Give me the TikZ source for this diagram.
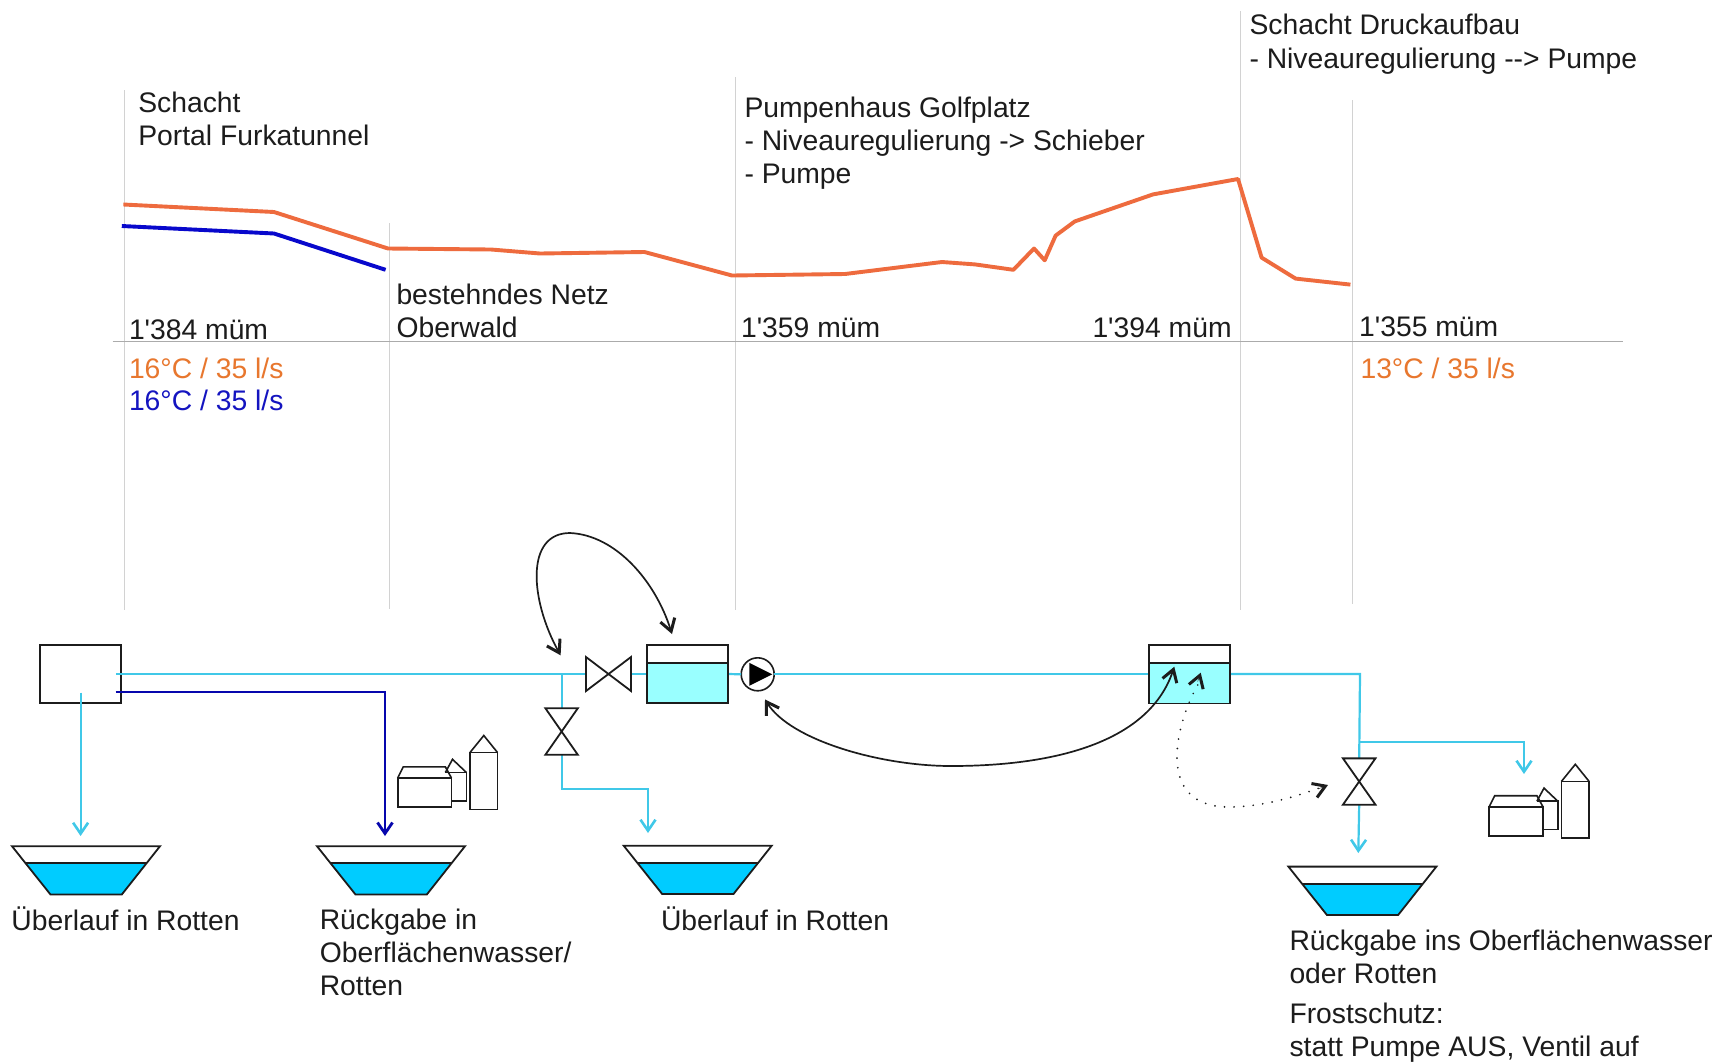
\documentclass[tikz,border=0pt]{standalone}
\usepackage{fontspec}
\newfontfamily\labfont{Liberation Sans}
\usetikzlibrary{arrows.meta,calc}
\definecolor{orangeline}{HTML}{EE6B3E}
\definecolor{orangetext}{HTML}{E8772E}
\definecolor{blueline}{HTML}{0808CC}
\definecolor{bluetext}{HTML}{1414C0}
\definecolor{pipe}{HTML}{40C8E8}
\definecolor{tankwater}{HTML}{99FFFF}
\definecolor{riverwater}{HTML}{00CCFF}
\definecolor{gridgrey}{HTML}{D2D2D2}
\definecolor{axisgrey}{HTML}{ABABAB}
\definecolor{ink}{HTML}{1C1C1C}
\newcommand{\firstline}{\rule{0pt}{27pt}}
\tikzset{
  lab/.style={font=\labfont\fontsize{28.3}{33.3}\selectfont,align=left,anchor=north west,inner sep=0pt,outer sep=0pt,xshift=-0.5pt,yshift=26pt,text=ink},
  guide/.style={draw=gridgrey,line width=1pt},
  profile/.style={line width=3.9pt,line join=round},
  outline/.style={draw=ink,line width=1.8pt,line join=miter},
  vessel/.style={outline,rectangle,inner sep=0pt,outer sep=0pt,minimum width=81pt,minimum height=58.5pt},
  valvebox/.style={rectangle,inner sep=0pt,outer sep=0pt},
  pipeline/.style={draw=pipe,line width=2.2pt},
  pipearrow/.style={pipeline,-{Straight Barb[length=11pt,width=15pt,line width=2.6pt]}},
  signal/.style={draw=ink,line width=1.7pt,{Straight Barb[length=12pt,width=15pt,line width=3pt]}-{Straight Barb[length=12pt,width=15pt,line width=3pt]}},
  barbonly/.style={draw=ink,line width=0.4pt,-{Straight Barb[length=12pt,width=15pt,line width=3pt]}},
}
\newcommand{\basinshape}[2]{%
  \fill[riverwater] (#1+13.8,#2+17) -- (#1+134.5,#2+17) -- (#1+109.8,#2+48.3) -- (#1+38.5,#2+48.3) -- cycle;
  \draw[outline] (#1,#2) -- (#1+148,#2) -- (#1+109.8,#2+48.3) -- (#1+38.5,#2+48.3) -- cycle;
  \draw[outline] (#1+13.8,#2+17) -- (#1+134.5,#2+17);
}
\newcommand{\village}[2]{%
  \begin{scope}[shift={(#1,#2)}]
    \draw[outline,line width=1.6pt] (445,771.9) -- (466.3,771.9) -- (466.3,800.2) -- (451,800.2);
    \draw[outline,line width=1.6pt] (445.4,771.9) -- (452.5,758.8) -- (466.3,771.9);
    \draw[outline,line width=1.6pt,fill=white] (397.7,777.4) rectangle (451.4,806.4);
    \draw[outline,line width=1.6pt] (397.7,777.4) -- (403.2,766.4) -- (445.4,766.4) -- (451.4,777.4);
    \draw[outline,line width=1.6pt] (470,752) rectangle (497.5,808.8);
    \draw[outline,line width=1.6pt] (470,752) -- (483.8,735) -- (497.5,752);
  \end{scope}
}
\begin{document}
\begin{tikzpicture}[x=1pt,y=-1pt]
\useasboundingbox (0,0) rectangle (1719,1061);
\fill[white] (0,0) rectangle (1719,1061);

% guide lines
\draw[guide] (124,90) -- (124,610);
\draw[guide] (389.5,223) -- (389.5,609);
\draw[guide] (735,77) -- (735,610);
\draw[guide] (1240,11) -- (1240,610);
\draw[guide] (1352.6,100) -- (1352.6,604);
\draw[draw=axisgrey,line width=1.8pt] (112.5,341.5) -- (1623,341.5);

% profiles
\draw[profile,orangeline] (123.4,204.5) -- (274,212) -- (388,248.5) -- (491,249.5) -- (540,253.5) -- (644.5,252) -- (732,275.5) -- (845,274) -- (942,262) -- (975,264.4) -- (1013.4,269.8) -- (1034,248.5) -- (1044.7,260.3) -- (1055.6,235.6) -- (1074.8,221.4) -- (1153,194.4) -- (1238,179) -- (1261.6,257.6) -- (1295.6,278.6) -- (1350.4,284.6);
\draw[profile,blueline] (121.8,226) -- (274,233.5) -- (385.6,269.8);

% upper texts
\node[lab] (tSchacht) at (138.8,111.6) {\firstline Schacht\\Portal Furkatunnel};
\node[lab] (tPump) at (745,116) {\firstline Pumpenhaus Golfplatz\\- Niveauregulierung -> Schieber\\- Pumpe};
\node[lab] (tDruck) at (1250,33.8) {\firstline Schacht Druckaufbau\\- Niveauregulierung --> Pumpe};
\node[lab] (tNetz) at (397,303.6) {\firstline bestehndes Netz\\Oberwald};
\node[lab] (tA) at (129.5,338) {\firstline 1'384 müm};
\node[lab] (tB) at (741.6,336.4) {\firstline 1'359 müm};
\node[lab] (tC) at (1093,336.4) {\firstline 1'394 müm};
\node[lab] (tD) at (1359.7,335.4) {\firstline 1'355 müm};
\node[lab,text=orangetext] (tE) at (129.5,377.6) {\firstline 16°C / 35 l/s};
\node[lab,text=bluetext] (tF) at (129.5,409.7) {\firstline 16°C / 35 l/s};
\node[lab,text=orangetext] (tG) at (1361,377) {\firstline 13°C / 35 l/s};

% equipment nodes
\node[vessel,minimum height=58.7pt] (shaft) at (80.5,674) {};
\node[vessel,fill=tankwater] (tankA) at (687.8,674) {};
\node[vessel,fill=tankwater] (tankB) at (1189.5,674.3) {};
\node[valvebox,minimum width=45pt,minimum height=34pt] (valveH) at (608.5,674) {};
\node[valvebox,minimum width=32.5pt,minimum height=46.6pt] (valveV) at (561.6,731.5) {};
\node[valvebox,minimum width=32.5pt,minimum height=46.3pt] (valveW) at (1359.2,781.5) {};
\node[circle,draw=ink,fill=white,line width=1.6pt,inner sep=0pt,outer sep=0pt,minimum size=33pt] (pump) at (757.7,674.3) {};

% named pipe points
\coordinate (shaftOut) at (116,674);
\coordinate (shaftBlue) at (115.7,692.3);
\coordinate (shaftDrop) at (80.6,692.5);
\coordinate (teeA) at (561.6,674);
\coordinate (teeB) at (1360,742.2);
\coordinate (bendTankB) at (1360,674);
\coordinate (cBlue) at (385,692.3);
\coordinate (cOut) at (561.6,788.8);
\coordinate (cOut2) at (648,788.8);
\coordinate (cVill) at (1524,742.2);
\coordinate (tipLeft) at (80.6,836);
\coordinate (tipBlue) at (385,836);
\coordinate (tipMid) at (648,833);
\coordinate (tipVill) at (1524,774);
\coordinate (tipLow) at (1358.3,853);

% pipes
\draw[pipeline] (shaftOut) -- (valveH.west);
\draw[pipeline] (valveH.east) -- (tankA.west);
\draw[pipeline] (tankA.east) -- (pump.west);
\draw[pipeline] (pump.east) -- (tankB.west |- pump.east);
\draw[pipeline] (tankB.east |- bendTankB) -- (bendTankB) -- (valveW.north);
\draw[pipeline] (teeA) -- (valveV.north);
\draw[pipearrow] (valveV.south) -- (cOut) -- (cOut2) -- (tipMid);
\draw[pipearrow] (shaftDrop) -- (tipLeft);
\draw[pipearrow] (teeB) -- (cVill) -- (tipVill);
\draw[pipearrow] (valveW.south) -- (tipLow);
\draw[draw=blueline!85!black,line width=2pt,-{Straight Barb[length=11pt,width=15pt,line width=2.8pt]}] (shaftBlue) -- (cBlue) -- (tipBlue);

% tank details
\fill[white] (tankA.north west) rectangle (tankA.east |- 0,662.8);
\draw[outline] (tankA.north west) rectangle (tankA.south east);
\draw[outline] (tankA.west |- 0,662.8) -- (tankA.east |- 0,662.8);
\fill[white] (tankB.north west) rectangle (tankB.east |- 0,662.8);
\draw[outline] (tankB.north west) rectangle (tankB.south east);
\draw[outline] (tankB.west |- 0,662.8) -- (tankB.east |- 0,662.8);

% valves and pump
\draw[outline] (valveH.north west) -- (valveH.south east) -- (valveH.north east) -- (valveH.south west) -- cycle;
\draw[outline] (valveV.north west) -- (valveV.north east) -- (valveV.south west) -- (valveV.south east) -- cycle;
\draw[outline] (valveW.north west) -- (valveW.north east) -- (valveW.south west) -- (valveW.south east) -- cycle;
\fill[black] ($(pump.center)+(-8.4,-11.5)$) -- ($(pump.center)+(14.6,0)$) -- ($(pump.center)+(-8.4,11.5)$) -- cycle;

% signal lines
\coordinate (sigA) at (560.6,655.3);
\coordinate (sigB) at (672,634);
\coordinate (sigC) at (765,699.4);
\coordinate (sigD) at (1174.3,666.7);
\coordinate (sigE) at (1200.7,672.7);
\coordinate (sigF) at (1328,785);
\draw[signal] (sigA) .. controls (530,600) and (525,533) .. (570,533) .. controls (615,535) and (655,580) .. (sigB);
\draw[signal] (sigC) .. controls (790,740) and (880,766) .. (951,766) .. controls (1060,766) and (1150,740) .. (sigD);
\draw[draw=ink,line width=1.9pt,line cap=round,dash pattern=on 0pt off 9.6pt] (1197.7,685) .. controls (1180,715) and (1150,806) .. (1228,807) .. controls (1265,807) and (1300,795) .. (1322,787);
\draw[barbonly] ($(sigE)+(-3,9)$) -- (sigE);
\draw[barbonly] ($(sigF)+(-10,4)$) -- (sigF);

% basins
\basinshape{12}{846.2}
\basinshape{317}{846.2}
\basinshape{623.7}{845.7}
\basinshape{1288.4}{866.6}

% buildings
\village{0}{0.5}
\village{1091.5}{29.3}

% lower texts
\node[lab] (tU1) at (12,929.6) {\firstline Überlauf in Rotten};
\node[lab] (tR1) at (320.3,928) {\firstline Rückgabe in\\Oberflächenwasser/\\Rotten};
\node[lab] (tU2) at (661.5,929.6) {\firstline Überlauf in Rotten};
\node[lab] (tR2) at (1290,949) {\firstline Rückgabe ins Oberflächenwasser\\oder Rotten};
\node[lab] (tF2) at (1290,1022) {\firstline Frostschutz:\\statt Pumpe AUS, Ventil auf};
\end{tikzpicture}
\end{document}
